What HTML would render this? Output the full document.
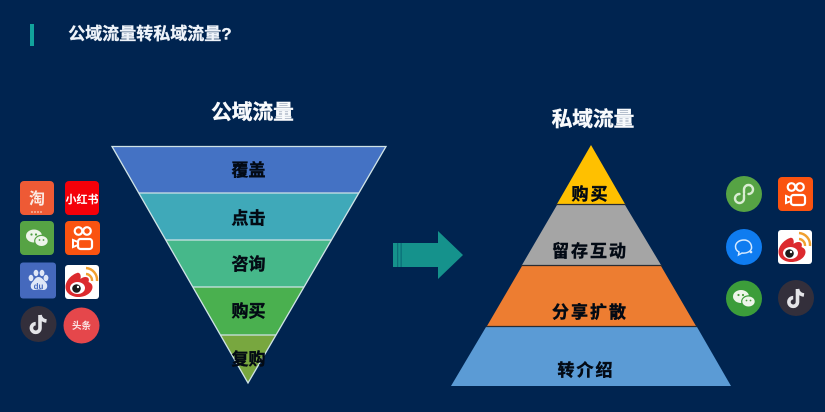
<!DOCTYPE html>
<html lang="zh">
<head>
<meta charset="utf-8">
<style>
html,body{margin:0;padding:0;background:#002450;width:825px;height:412px;overflow:hidden}
svg{display:block;filter:blur(.35px)}
text{font-family:"Liberation Sans","Noto Sans CJK SC",sans-serif;font-weight:700;text-anchor:middle}
.d{fill:#030a14;font-size:17px;stroke:#030a14;stroke-width:.45px}
.t{fill:#f8fafc;font-size:20.7px;stroke:#f8fafc;stroke-width:.4px}
</style>
</head>
<body>
<svg width="825" height="412" viewBox="0 0 825 412" xmlns="http://www.w3.org/2000/svg">
<defs>
<g id="ks">
<rect width="35" height="34" rx="4" fill="#fa5310"/>
<circle cx="13.500" cy="10" r="3.800" fill="none" stroke="#fff" stroke-width="2.200"/>
<circle cx="22" cy="10" r="3.800" fill="none" stroke="#fff" stroke-width="2.200"/>
<rect x="13" y="18" width="14" height="10" rx="2.500" fill="none" stroke="#fff" stroke-width="2.200"/>
<path d="M13 21l-5-2v7l5-2z" fill="none" stroke="#fff" stroke-width="2"/>
</g>
<g id="wb">
<rect width="34" height="34" rx="3" fill="#fff"/>
<path d="M12 8c-6 2-11.500 8-11.500 14 0 6 6 10 13 10 8 0 14-5 14-10 0-3-2-4-4-5 1-3 0-5-3-5-2 0-4 1-5 2 1-4-1-7-3.500-6z" fill="#dc2a2e"/>
<ellipse cx="12.500" cy="23" rx="7.500" ry="6" fill="#fff"/>
<circle cx="11.500" cy="23.500" r="4.300" fill="#1c1c1c"/>
<circle cx="13" cy="22" r="1.200" fill="#fff"/>
<path d="M21 9a6.500 6.500 0 0 1 6 7" fill="none" stroke="#f0a030" stroke-width="2.400"/>
<path d="M21 3a12 12 0 0 1 11 13" fill="none" stroke="#f0a030" stroke-width="2.400"/>
</g>
<g id="wc">
<ellipse cx="-3" cy="-2" rx="8" ry="6.500" fill="#eef5ea"/>
<ellipse cx="4.500" cy="3" rx="6.800" ry="5.600" fill="#eef5ea" stroke="currentColor" stroke-width="1.200"/>
<circle cx="-5.500" cy="-3.500" r="1.100" fill="#4c9c3e"/><circle cx="-1" cy="-3.500" r="1.100" fill="#4c9c3e"/>
<circle cx="2.500" cy="2" r=".9" fill="#4c9c3e"/><circle cx="6.500" cy="2" r=".9" fill="#4c9c3e"/>
</g>
<g id="tt">
<circle r="18" fill="#332f3b"/>
<path d="M1.500-9v13a4.300 4.300 0 1 1-4.300-4.300M1.500-9c.5 3.500 3 5.500 6.500 6" fill="none" stroke="#e4e4e8" stroke-width="3.600"/>
</g>
</defs>

<rect width="825" height="412" fill="#002450"/>

<!-- Header -->
<rect x="30" y="24" width="4" height="22" fill="#12a39c"/>
<text x="150" y="39.500" style="font-size:17px;fill:#eef3f9;stroke:#eef3f9;stroke-width:.3px">公域流量转私域流量?</text>

<!-- Funnel -->
<text class="t" x="252.500" y="119">公域流量</text>
<polygon points="112,146.500 386,146.500 358.900,193 139,193" fill="#4472c4"/>
<polygon points="139,193 358.900,193 331,240 166,240" fill="#3fa9b9"/>
<polygon points="166,240 331,240 304,287 193,287" fill="#46b88a"/>
<polygon points="193,287 304,287 276.200,335 220.300,335" fill="#4ab04f"/>
<polygon points="220.300,335 276.200,335 248,383" fill="#78a73f"/>
<g stroke="#cfe3e6" stroke-width="1.300" fill="none">
<polygon points="112,146.500 386,146.500 248,383"/>
<path d="M139 193H358.900M166 240H331M193 287H304M220.300 335H276.200"/>
</g>
<text class="d" x="248.500" y="176">覆盖</text>
<text class="d" x="248.500" y="224">点击</text>
<text class="d" x="248.500" y="270">咨询</text>
<text class="d" x="248.500" y="317">购买</text>
<text class="d" x="248.500" y="365">复购</text>

<!-- Arrow -->
<polygon points="393,243 438,243 438,231 463,255 438,279 438,267 393,267" fill="#15928c"/>
<rect x="397" y="243" width="1.300" height="24" fill="#0b6f78"/>
<rect x="400.500" y="243" width="1.300" height="24" fill="#0b6f78"/>

<!-- Pyramid -->
<text class="t" x="593" y="126">私域流量</text>
<polygon points="591,145 625,204 557,204" fill="#ffc000"/>
<polygon points="557,205 625,205 661,265 522,265" fill="#a5a5a5"/>
<polygon points="522,266 661,266 696,326 487,326" fill="#ed7d31"/>
<polygon points="486,327 697,327 731,386 451,386" fill="#5b9bd5"/>
<path d="M556 204.500H626M521 265.500H662M486 326.500H697" stroke="#2a2c33" stroke-width="1.300"/>
<text class="d" x="590.500" y="200" style="letter-spacing:2px">购买</text>
<text class="d" x="590" y="257" style="letter-spacing:2px">留存互动</text>
<text class="d" x="590" y="318" style="letter-spacing:2px">分享扩散</text>
<text class="d" x="586" y="376" style="letter-spacing:2px">转介绍</text>

<!-- Left icons -->
<rect x="20" y="181" width="34" height="34" rx="4" fill="#ee5a35"/>
<text x="37" y="204" style="font-size:16px;fill:#fbe9e2">淘</text>
<path d="M31 212h12" stroke="#f7b59c" stroke-width="1.400" stroke-dasharray="2 1"/>
<rect x="65" y="181" width="34" height="34" rx="4" fill="#f40009"/>
<text x="82" y="203" style="font-size:11px;fill:#fff">小红书</text>

<rect x="20" y="221" width="34" height="34" rx="4" fill="#56a344"/>
<g transform="translate(37,238)" color="#56a344"><use href="#wc"/></g>
<use href="#ks" x="65" y="221"/>

<rect x="20" y="262.500" width="36" height="36" rx="3" fill="#4569bd"/>
<g fill="#dfe7f7">
<ellipse cx="31" cy="278" rx="2.400" ry="3.200"/>
<ellipse cx="36" cy="273" rx="2.400" ry="3.200"/>
<ellipse cx="42" cy="273" rx="2.400" ry="3.200"/>
<ellipse cx="46" cy="278" rx="2.400" ry="3.200"/>
<path d="M38.500 277c-3 0-4 3-6 5-3 3-2 8 2 8 2 0 3-.6 4.500-.6s2.500.6 4.500.6c4 0 5-5 2-8-2-2-4-5-7-5z"/>
</g>
<text x="38.500" y="289" style="font-size:8px;fill:#4569bd">du</text>
<use href="#wb" x="65" y="265"/>

<use href="#tt" transform="translate(38.500,324)"/>
<circle cx="81.500" cy="325.500" r="18" fill="#e5474b"/>
<text x="81.500" y="329" style="font-size:9.500px;fill:#fbe3e3">头条</text>

<!-- Right icons -->
<circle cx="744" cy="194" r="18" fill="#56a344"/>
<path d="M744 195v3.500a4.500 4.500 0 1 1-4.500-4.500M744 193v-3.500a4.500 4.500 0 1 1 4.500 4.500" fill="none" stroke="#d9edd2" stroke-width="2.400" stroke-linecap="round"/>
<use href="#ks" x="778" y="177"/>

<circle cx="744" cy="247" r="18" fill="#0f7cf0"/>
<path d="M744 240c-5 0-8.500 3-8.500 6.500 0 2.600 1.500 4.500 3.500 5.500l-.5 3 3.500-2c3.500.5 8-.5 9.500-4.500 .5-4.500-2.500-8.500-7.500-8.500z" fill="none" stroke="#d5e9ff" stroke-width="1.500"/>
<circle cx="751" cy="252" r="1.300" fill="#d5e9ff"/>
<use href="#wb" x="778" y="230"/>

<circle cx="744" cy="298.500" r="18" fill="#3c9d3a"/>
<g transform="translate(744,298.500)" color="#3c9d3a"><use href="#wc"/></g>
<use href="#tt" transform="translate(796,298)"/>
</svg>
</body>
</html>
